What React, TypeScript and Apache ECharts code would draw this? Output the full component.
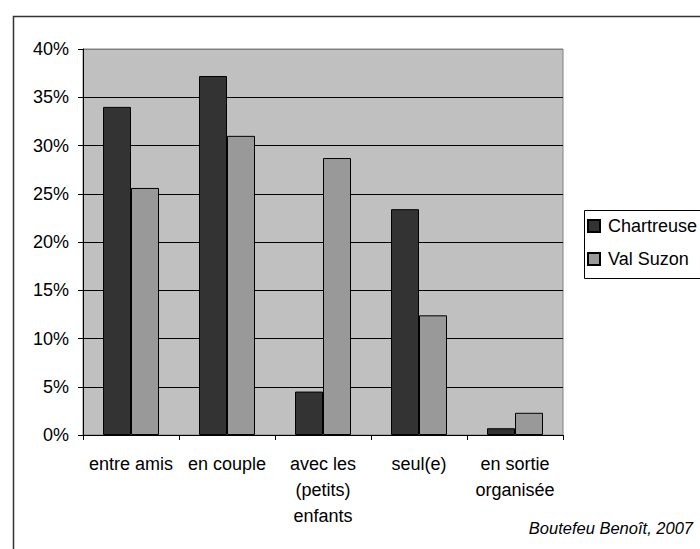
import React, { useEffect, useRef } from "react";
import * as echarts from "echarts";

const categories = [
  "entre amis",
  "en couple",
  "avec les\n(petits)\nenfants",
  "seul(e)",
  "en sortie\norganisée",
];
const seriesNames = ["Chartreuse", "Val Suzon"];
const chartreuse = [34.0, 37.2, 4.5, 23.4, 0.7];
const valSuzon = [25.6, 31.0, 28.7, 12.4, 2.3];
const credit = "Boutefeu Benoît, 2007";

export default function App() {
  const ref = useRef<HTMLDivElement>(null);
  useEffect(() => {
    document.body.style.margin = "0";
    if (!ref.current) return;
    const chart = echarts.init(ref.current, undefined, { renderer: "svg" });
    const font = "'Liberation Sans', Arial, sans-serif";
    chart.setOption({
      animation: false,
      backgroundColor: "#ffffff",
      textStyle: { fontFamily: font },
      grid: {
        left: 83,
        top: 49,
        right: 137,
        bottom: 114,
        show: true,
        backgroundColor: "#C0C0C0",
        borderColor: "#808080",
        borderWidth: 1,
      },
      legend: {
        orient: "vertical",
        left: 587,
        top: 217,
        padding: 0,
        itemWidth: 12,
        itemHeight: 12,
        itemGap: 15,
        icon: "rect",
        data: seriesNames,
        textStyle: {
          fontFamily: font,
          fontSize: 18,
          color: "#000",
          lineHeight: 18,
          padding: [0, 0, 0, 3],
        },
      },
      xAxis: {
        type: "category",
        data: categories,
        axisLine: { show: true, lineStyle: { color: "#000", width: 1 } },
        axisTick: { show: true, length: 5, lineStyle: { color: "#000" } },
        axisLabel: {
          interval: 0,
          margin: 16,
          fontFamily: font,
          fontSize: 18,
          lineHeight: 26,
          color: "#000",
        },
      },
      yAxis: {
        type: "value",
        min: 0,
        max: 40,
        interval: 5,
        axisLine: { show: true, lineStyle: { color: "#000", width: 1 } },
        axisTick: { show: true, length: 5, lineStyle: { color: "#000" } },
        axisLabel: {
          formatter: "{value}%",
          margin: 14,
          fontFamily: font,
          fontSize: 18,
          color: "#000",
        },
        splitLine: {
          show: true,
          lineStyle: {
            color: ["#000", "#000", "#000", "#000", "#000", "#000", "#000", "#000", "#808080"],
            width: 1,
          },
        },
      },
      series: [
        {
          name: seriesNames[0],
          type: "bar",
          data: chartreuse,
          barWidth: 28,
          barGap: "0%",
          itemStyle: { color: "#333333", borderColor: "#000", borderWidth: 1 },
        },
        {
          name: seriesNames[1],
          type: "bar",
          data: valSuzon,
          barWidth: 28,
          barGap: "0%",
          itemStyle: { color: "#999999", borderColor: "#000", borderWidth: 1 },
        },
      ],
      graphic: [
        {
          type: "rect",
          left: 11,
          top: 14,
          shape: { width: 720, height: 600 },
          style: { fill: "none", stroke: "#333", lineWidth: 1.5 },
          silent: true,
          z: -1,
        },
        {
          type: "rect",
          left: 582,
          top: 208,
          shape: { width: 140, height: 68 },
          style: { fill: "none", stroke: "#000", lineWidth: 1 },
          silent: true,
        },
        {
          type: "text",
          x: 693,
          y: 528,
          style: {
            text: credit,
            fontFamily: font,
            fontSize: 16.5,
            fontStyle: "italic",
            fill: "#000",
            align: "right",
            verticalAlign: "middle",
          },
        },
      ],
    });
    return () => chart.dispose();
  }, []);
  return <div ref={ref} style={{ width: 700, height: 549 }} />;
}
